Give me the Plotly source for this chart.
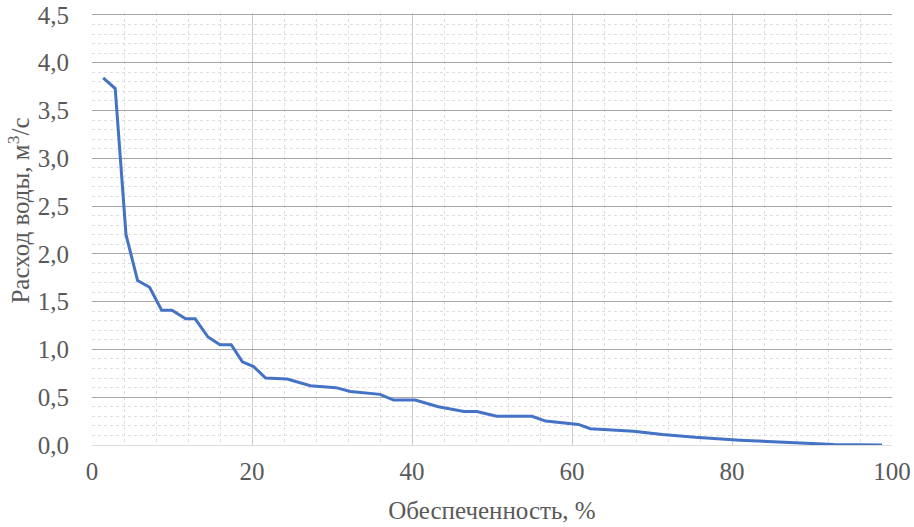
import plotly.graph_objects as go

# Data
supply_pct = [1.4, 2.9, 4.25, 5.7, 7.2, 8.7, 10.0, 11.7, 12.9, 14.5, 16.0, 17.4, 18.8,
              20.2, 21.7, 24.4, 27.3, 29.2, 30.5, 32.3, 36.0, 37.7, 40.4, 43.3, 44.8,
              46.5, 48.1, 50.6, 55.0, 56.7, 60.8, 62.3, 64.5, 67.7, 71.3, 75.4, 81.0,
              86.0, 92.7, 98.75]
discharge = [3.84, 3.73, 2.20, 1.72, 1.65, 1.41, 1.41, 1.32, 1.32, 1.13, 1.05, 1.05, 0.87,
             0.82, 0.70, 0.69, 0.62, 0.61, 0.60, 0.56, 0.53, 0.47, 0.47, 0.40, 0.38,
             0.35, 0.35, 0.30, 0.30, 0.25, 0.215, 0.17, 0.16, 0.145, 0.11, 0.08, 0.05,
             0.03, 0.005, 0.0]

x_ticks = [0, 20, 40, 60, 80, 100]
y_ticks = [0.0, 0.5, 1.0, 1.5, 2.0, 2.5, 3.0, 3.5, 4.0, 4.5]
y_major_grid = y_ticks[1:]
y_minor_grid = [round(0.1 * i, 1) for i in range(1, 45) if i % 5]

FONT = "Liberation Serif, serif"
GREY = "#595959"
TF = dict(family=FONT, size=25, color=GREY)
Y_RANGE = [0, 4.52]

fig = go.Figure()
fig.add_trace(go.Scatter(x=supply_pct, y=discharge, mode="lines",
                         line=dict(color="#4472C4", width=3), showlegend=False))
# invisible helper trace to activate the grid-only overlay axis
fig.add_trace(go.Scatter(x=[None], y=[None], yaxis="y2", showlegend=False, hoverinfo="skip"))

fig.update_layout(
    width=914, height=527,
    margin=dict(l=92, r=22, t=13, b=82, autoexpand=False),
    paper_bgcolor="white", plot_bgcolor="white",
    separators=", ",
    font=TF,
    xaxis=dict(range=[0, 100], tickvals=x_ticks, showgrid=True, gridcolor="#cccccc", gridwidth=1,
               minor=dict(dtick=4, showgrid=True, gridcolor="#dedede", griddash="dot", gridwidth=1),
               zeroline=False, showline=True, linecolor="#dcdcdc", linewidth=1,
               ticks="", ticklabelstandoff=4, automargin=False, ticklabeloverflow="allow",
               tickfont=TF,
               title=dict(text="Обеспеченность, %", font=TF, standoff=17)),
    yaxis=dict(range=Y_RANGE, tickvals=y_ticks, tickformat=".1f", showgrid=False,
               minor=dict(tickvals=y_minor_grid, showgrid=True, gridcolor="#dedede",
                          griddash="dot", gridwidth=1),
               zeroline=False, showline=False, ticks="", ticklabelstandoff=22, automargin=False,
               ticklabeloverflow="allow", tickfont=TF),
    yaxis2=dict(range=Y_RANGE, overlaying="y", tickvals=y_major_grid, showticklabels=False,
                showgrid=True, gridcolor="#a6a6a6", gridwidth=1, zeroline=False, showline=False,
                ticks="", automargin=False),
    annotations=[dict(text="Расход воды, м<sup>3</sup>/с", textangle=-90, xref="paper", yref="paper",
                      x=-0.091, y=0.543, xanchor="center", yanchor="middle", showarrow=False,
                      font=TF)],
)

fig.write_html("out.html", config={"displayModeBar": False},
               post_script="document.body.style.margin='0';")
